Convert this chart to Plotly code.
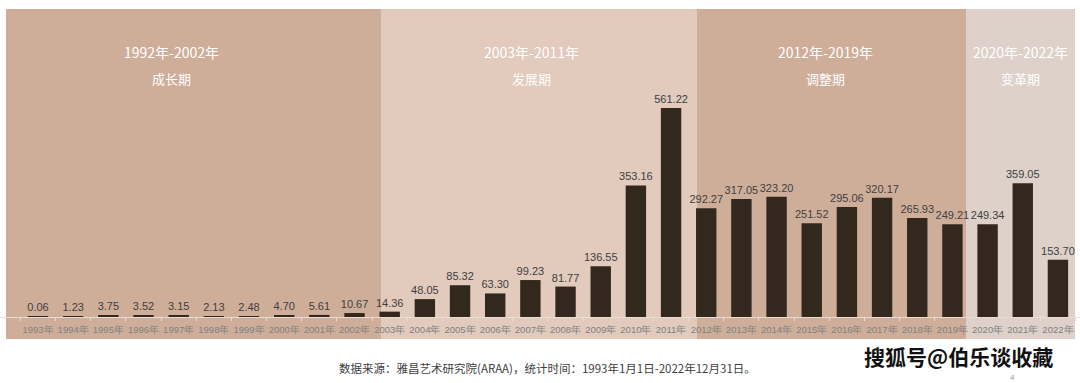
import plotly.graph_objects as go

years = [f"{y}年" for y in range(1993, 2023)]
values = [0.06, 1.23, 3.75, 3.52, 3.15, 2.13, 2.48, 4.70, 5.61, 10.67,
          14.36, 48.05, 85.32, 63.30, 99.23, 81.77, 136.55, 353.16, 561.22,
          292.27, 317.05, 323.20, 251.52, 295.06, 320.17, 265.93, 249.21,
          249.34, 359.05, 153.70]
value_labels = [f"{v:.2f}" for v in values]

period_ranges = ["1992年-2002年", "2003年-2011年", "2012年-2019年", "2020年-2022年"]
period_names = ["成长期", "发展期", "调整期", "变革期"]
# band extents in pixels (x0, x1) and colours
band_px = [(6, 381), (381, 697), (697, 966), (966, 1075)]
band_colors = ["#CFAE99", "#E2CABD", "#CFAE99", "#DDD1C9"]
header_x_px = [171, 531, 825, 1020]

W, H = 1080, 383
T, B = 9, 66
plot_h = H - T - B
px_per_unit = 209 / 561.22
ymax = plot_h / px_per_unit

spacing = 35.17
r0 = -38 / spacing
r1 = r0 + W / spacing


def py(p):
    return (T + plot_h - p) / plot_h


def ann(xp, yp, text, font):
    return dict(x=xp / W, y=py(yp), xref="paper", yref="paper", text=text,
                showarrow=False, xanchor="center", yanchor="middle", font=font)


fig = go.Figure()
fig.add_trace(go.Bar(
    x=years, y=values, text=value_labels, textposition="outside",
    constraintext="none",
    textfont=dict(family="Liberation Sans, Arial", size=11, color="#404040"),
    marker=dict(color="#33281E", line=dict(width=0)),
    width=0.58, cliponaxis=False, hoverinfo="skip",
))

shapes = []
for (x0, x1), c in zip(band_px, band_colors):
    shapes.append(dict(type="rect", xref="paper", yref="paper",
                       x0=x0 / W, x1=x1 / W, y0=py(339), y1=1.0,
                       fillcolor=c, line=dict(width=0), layer="below"))

annotations = []
for xp, rng, nm in zip(header_x_px, period_ranges, period_names):
    annotations.append(ann(xp, 52, rng, dict(family="Noto Sans CJK SC", size=14, color="#FFFFFF")))
    annotations.append(ann(xp, 78, nm, dict(family="Noto Sans CJK SC", size=13, color="#FFFFFF")))

annotations.append(ann(547, 368, "数据来源：雅昌艺术研究院(ARAA)，统计时间：1993年1月1日-2022年12月31日。",
                       dict(family="Noto Sans CJK SC", size=11.5, color="#404040")))
annotations.append(ann(958, 356, "<b>搜狐号@伯乐谈收藏</b>",
                       dict(family="Noto Sans CJK SC", size=21, color="#111111")))
annotations.append(ann(1012, 377, "4", dict(family="Liberation Sans", size=8, color="#999999")))

fig.update_layout(
    width=W, height=H,
    margin=dict(l=0, r=0, t=T, b=B, pad=0),
    paper_bgcolor="#FFFFFF", plot_bgcolor="rgba(0,0,0,0)",
    showlegend=False,
    shapes=shapes, annotations=annotations,
    xaxis=dict(type="category", range=[r0, r1], showgrid=False, zeroline=False,
               showline=True, linecolor="#E9DED6", linewidth=1,
               ticks="outside", tickson="boundaries", ticklen=3, tickcolor="#E9DED6",
               ticklabelstandoff=4,
               tickfont=dict(family="Liberation Sans, Arial", size=9.5, color="#808080"),
               tickangle=0, fixedrange=True),
    yaxis=dict(range=[0, ymax], visible=False, fixedrange=True),
)

fig.write_html("out.html", config={"displayModeBar": False},
               post_script="document.body.style.margin='0';document.body.style.overflow='hidden';")
